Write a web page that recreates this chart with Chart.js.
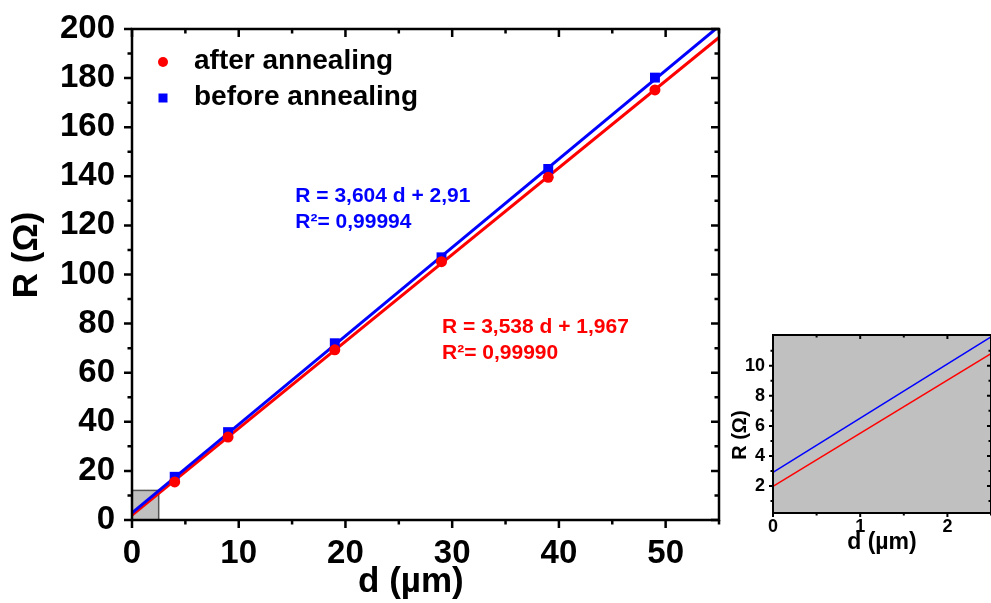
<!DOCTYPE html>
<html>
<head>
<meta charset="utf-8">
<script src="https://cdn.jsdelivr.net/npm/chart.js@4.4.1/dist/chart.umd.min.js"></script>
<style>
  body { margin: 0; background: #fff; overflow: hidden; }
  #wrap { position: relative; width: 991px; height: 603px; }
  #mainChart { position: absolute; left: 0; top: 0; }
  #insetChart { position: absolute; left: 725px; top: 320px; }
</style>
</head>
<body>
<div id="wrap">
  <canvas id="mainChart" width="991" height="603"></canvas>
  <canvas id="insetChart" width="266" height="240"></canvas>
</div>
<script>
// measured points
const dValues = [4, 9, 19, 29, 39, 49];
const afterValues = [15.5, 33.8, 69.3, 105.2, 139.6, 175.2];
const beforeValues = [17.6, 35.8, 72.0, 107.0, 143.0, 180.2];

// linear fits, end points at d = 0 and d = 55
const fitD = [0, 55];
const afterFit = [1.967, 196.56];
const beforeFit = [2.91, 201.13];

const seriesNames = ["after annealing", "before annealing"];
const afterText = ["R = 3,538 d + 1,967", "R²= 0,99990"];
const beforeText = ["R = 3,604 d + 2,91", "R²= 0,99994"];

// main axes
const xTicks = [0, 10, 20, 30, 40, 50];
const xMinor = [5, 15, 25, 35, 45, 55];
const yTicks = [0, 20, 40, 60, 80, 100, 120, 140, 160, 180, 200];
const yMinor = [10, 30, 50, 70, 90, 110, 130, 150, 170, 190];

// zoomed region (gray box / inset)
const zoomD = [0, 2.5];
const zoomR = [0.2, 12.05];
const insetXTicks = [0, 1, 2];
const insetXMinor = [0.5, 1.5, 2.5];
const insetYTicks = [2, 4, 6, 8, 10];
const insetYMinor = [1, 3, 5, 7, 9, 11];

const RED = "#ff0000";
const BLUE = "#0000ff";
const FONT = "'Liberation Sans', Arial, sans-serif";

function pts(xs, ys) {
  return xs.map((x, i) => ({ x: x, y: ys[i] }));
}

// frame with ticks out on left/bottom, in on top/right
const framePlugin = {
  id: "frame",
  beforeDraw(chart, args, opts) {
    if (!opts.fill) return;
    const a = chart.chartArea, ctx = chart.ctx;
    ctx.save();
    ctx.fillStyle = opts.fill;
    ctx.fillRect(a.left, a.top, a.width, a.height);
    ctx.restore();
  },
  afterDraw(chart, args, opts) {
    const ctx = chart.ctx, a = chart.chartArea;
    const x = chart.scales.x, y = chart.scales.y;
    ctx.save();
    ctx.strokeStyle = "#000";
    ctx.lineWidth = opts.width;
    ctx.strokeRect(a.left, a.top, a.width, a.height);
    ctx.beginPath();
    const xt = (vals, len) => vals.forEach(v => {
      const p = x.getPixelForValue(v);
      ctx.moveTo(p, a.bottom); ctx.lineTo(p, a.bottom + len);
      ctx.moveTo(p, a.top); ctx.lineTo(p, a.top + len);
    });
    const yt = (vals, len) => vals.forEach(v => {
      const p = y.getPixelForValue(v);
      ctx.moveTo(a.left - len, p); ctx.lineTo(a.left, p);
      ctx.moveTo(a.right, p); ctx.lineTo(a.right - len, p);
    });
    xt(opts.xMajor, opts.major); xt(opts.xMinor, opts.minor);
    yt(opts.yMajor, opts.major); yt(opts.yMinor, opts.minor);
    ctx.stroke();
    ctx.restore();
  }
};

// gray box, legend and fit equations on the main chart
const mainExtras = {
  id: "mainExtras",
  beforeDatasetsDraw(chart) {
    const ctx = chart.ctx, x = chart.scales.x, y = chart.scales.y;
    const x0 = x.getPixelForValue(zoomD[0]), x1 = x.getPixelForValue(zoomD[1]);
    const y0 = y.getPixelForValue(0), y1 = y.getPixelForValue(zoomR[1]);
    ctx.save();
    ctx.fillStyle = "#c0c0c0";
    ctx.fillRect(x0, y1, x1 - x0, y0 - y1);
    ctx.strokeStyle = "#555";
    ctx.lineWidth = 1.5;
    ctx.strokeRect(x0, y1, x1 - x0, y0 - y1);
    ctx.restore();
  },
  afterDraw(chart) {
    const ctx = chart.ctx, x = chart.scales.x, y = chart.scales.y;
    ctx.save();
    // legend
    ctx.font = "bold 28px " + FONT;
    ctx.textBaseline = "middle";
    ctx.fillStyle = RED;
    ctx.beginPath(); ctx.arc(163, 62, 5, 0, Math.PI * 2); ctx.fill();
    ctx.fillStyle = BLUE;
    ctx.fillRect(158.5, 93.5, 9, 9);
    ctx.fillStyle = "#000";
    ctx.fillText(seriesNames[0], 194, 61);
    ctx.fillText(seriesNames[1], 194, 97);
    // equations
    ctx.font = "bold 21px " + FONT;
    ctx.fillStyle = BLUE;
    let px = x.getPixelForValue(15.3), py = y.getPixelForValue(131.7);
    ctx.fillText(beforeText[0], px, py);
    ctx.fillText(beforeText[1], px, py + 26);
    ctx.fillStyle = RED;
    px = x.getPixelForValue(29.05); py = y.getPixelForValue(78.7);
    ctx.fillText(afterText[0], px, py);
    ctx.fillText(afterText[1], px, py + 26);
    ctx.restore();
  }
};

const tickFont = (size, lh) => ({ family: FONT, size: size, weight: "bold", lineHeight: lh || 1.2 });

new Chart(document.getElementById("mainChart"), {
  type: "scatter",
  data: {
    datasets: [
      { label: seriesNames[0], data: pts(dValues, afterValues), backgroundColor: RED, borderColor: RED,
        pointStyle: "circle", pointRadius: 5.5, pointBorderWidth: 0, order: 1 },
      { label: seriesNames[1], data: pts(dValues, beforeValues), backgroundColor: BLUE, borderColor: BLUE,
        pointStyle: "rect", pointRadius: 7, pointBorderWidth: 0, order: 2 },
      { label: "fit before", data: pts(fitD, beforeFit), showLine: true, borderColor: BLUE, borderWidth: 3,
        pointRadius: 0, clip: 0, order: 3 },
      { label: "fit after", data: pts(fitD, afterFit), showLine: true, borderColor: RED, borderWidth: 3,
        pointRadius: 0, clip: 0, order: 4 }
    ]
  },
  options: {
    responsive: false,
    animation: false,
    devicePixelRatio: 1,
    layout: { padding: { left: 0, top: 29, right: 272, bottom: 0 } },
    plugins: {
      legend: { display: false },
      tooltip: { enabled: false },
      frame: { width: 2.5, major: 8, minor: 4.5, xMajor: xTicks, xMinor: xMinor, yMajor: yTicks, yMinor: yMinor }
    },
    scales: {
      x: {
        type: "linear", min: 0, max: 55,
        grid: { display: false, drawTicks: false },
        border: { display: false },
        afterBuildTicks: s => { s.ticks = xTicks.map(v => ({ value: v })); },
        afterFit: s => { s.height = 83; },
        ticks: { font: tickFont(33), color: "#000", padding: 14, maxRotation: 0, autoSkip: false },
        title: { display: true, text: "d (µm)   ", font: tickFont(35), color: "#000", padding: 0 }
      },
      y: {
        type: "linear", min: 0, max: 200,
        grid: { display: false, drawTicks: false },
        border: { display: false },
        afterBuildTicks: s => { s.ticks = yTicks.map(v => ({ value: v })); },
        afterFit: s => { s.width = 132; },
        ticks: { font: tickFont(33, 0.6), color: "#000", padding: 17, autoSkip: false },
        title: { display: true, text: "    R (Ω)", font: tickFont(35), color: "#000", padding: { top: 6, bottom: 0 } }
      }
    }
  },
  plugins: [framePlugin, mainExtras]
});

new Chart(document.getElementById("insetChart"), {
  type: "scatter",
  data: {
    datasets: [
      { label: "fit before", data: pts(fitD, beforeFit), showLine: true, borderColor: BLUE, borderWidth: 1.5,
        pointRadius: 0, clip: 0, order: 1 },
      { label: "fit after", data: pts(fitD, afterFit), showLine: true, borderColor: RED, borderWidth: 1.5,
        pointRadius: 0, clip: 0, order: 2 }
    ]
  },
  options: {
    responsive: false,
    animation: false,
    devicePixelRatio: 1,
    layout: { padding: { left: 0, top: 15, right: 0, bottom: 0 } },
    plugins: {
      legend: { display: false },
      tooltip: { enabled: false },
      frame: { fill: "#c0c0c0", width: 2, major: 4, minor: 2.5,
        xMajor: insetXTicks, xMinor: insetXMinor, yMajor: insetYTicks, yMinor: insetYMinor }
    },
    scales: {
      x: {
        type: "linear", min: zoomD[0], max: zoomD[1],
        grid: { display: false, drawTicks: false },
        border: { display: false },
        afterBuildTicks: s => { s.ticks = insetXTicks.map(v => ({ value: v })); },
        afterFit: s => { s.height = 47; },
        ticks: { font: tickFont(18), color: "#000", padding: 3, maxRotation: 0, autoSkip: false },
        title: { display: true, text: "d (µm)", font: tickFont(23), color: "#000", padding: { top: 0, bottom: 4 } }
      },
      y: {
        type: "linear", min: zoomR[0], max: zoomR[1],
        grid: { display: false, drawTicks: false },
        border: { display: false },
        afterBuildTicks: s => { s.ticks = insetYTicks.map(v => ({ value: v })); },
        afterFit: s => { s.width = 48; },
        ticks: { font: tickFont(18, 0.6), color: "#000", padding: 8, autoSkip: false },
        title: { display: true, text: "R (Ω)    ", font: tickFont(20), color: "#000", padding: { top: 3, bottom: 0 } }
      }
    }
  },
  plugins: [framePlugin]
});
</script>
</body>
</html>
